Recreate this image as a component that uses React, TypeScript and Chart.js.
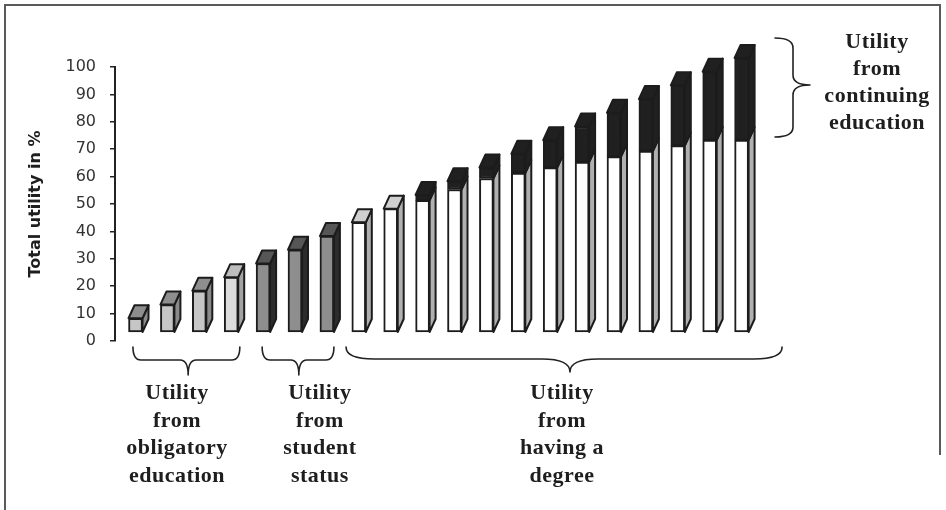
import React, { useEffect, useRef } from 'react';
import { Chart, registerables } from 'chart.js';

Chart.register(...registerables);

// ---- data ----
const steps = [1, 2, 3, 4, 5, 6, 7, 8, 9, 10, 11, 12, 13, 14, 15, 16, 17, 18, 19, 20];
const obligatoryEducation = [5, 10, 15, 20, null, null, null, null, null, null, null, null, null, null, null, null, null, null, null, null];
const studentStatus = [null, null, null, null, 25, 30, 35, null, null, null, null, null, null, null, null, null, null, null, null, null];
const havingDegree = [null, null, null, null, null, null, null, 40, 45, 48, 52, 56, 58, 60, 62, 64, 66, 68, 70, 70];
const continuingEducation = [null, null, null, null, null, null, null, null, null, 2, 3, 4, 7, 10, 13, 16, 19, 22, 25, 30];
const yMin = 0;
const yMax = 100;
const yStep = 10;
const yTitle = 'Total utility in %';

const obligatoryLabel = ['Utility', 'from', 'obligatory', 'education'];
const studentLabel = ['Utility', 'from', 'student', 'status'];
const degreeLabel = ['Utility', 'from', 'having a', 'degree'];
const continuingLabel = ['Utility', 'from', 'continuing', 'education'];

// ---- styles ----
const OUTLINE = '#1c1c1c';
const DX = 6;
const DY = 13;

const frontObligatory = steps.map((s) => (s === 4 ? '#dddddd' : '#c6c6c6'));
const topObligatory = steps.map((s) => (s === 4 ? '#bdbdbd' : '#8e8e8e'));
const sideObligatory = steps.map((s) => (s === 4 ? '#a2a2a2' : '#8a8a8a'));

const depthPlugin = {
  id: 'depth3d',
  afterDatasetsDraw(chart: any) {
    const ctx = chart.ctx;
    ctx.save();
    ctx.lineWidth = 2;
    ctx.lineJoin = 'round';
    ctx.strokeStyle = OUTLINE;
    for (let i = 0; i < steps.length; i++) {
      let top: any = null;
      chart.data.datasets.forEach((ds: any, di: number) => {
        const v = ds.data[i];
        if (v == null) return;
        const el = chart.getDatasetMeta(di).data[i];
        if (!el) return;
        const { x, y, base, width } = el.getProps(['x', 'y', 'base', 'width'], true);
        const xl = x - width / 2;
        const xr = x + width / 2;
        ctx.beginPath();
        ctx.moveTo(xr, y);
        ctx.lineTo(xr + DX, y - DY);
        ctx.lineTo(xr + DX, base - DY);
        ctx.lineTo(xr, base);
        ctx.closePath();
        ctx.fillStyle = Array.isArray(ds.sideColor) ? ds.sideColor[i] : ds.sideColor;
        ctx.fill();
        ctx.stroke();
        top = { xl, xr, y, color: Array.isArray(ds.topColor) ? ds.topColor[i] : ds.topColor };
      });
      if (top) {
        ctx.beginPath();
        ctx.moveTo(top.xl, top.y);
        ctx.lineTo(top.xl + DX, top.y - DY);
        ctx.lineTo(top.xr + DX, top.y - DY);
        ctx.lineTo(top.xr, top.y);
        ctx.closePath();
        ctx.fillStyle = top.color;
        ctx.fill();
        ctx.stroke();
      }
    }
    ctx.restore();
  },
};

const framePlugin = {
  id: 'frame',
  beforeDraw(chart: any) {
    const ctx = chart.ctx;
    ctx.save();
    ctx.fillStyle = '#ffffff';
    ctx.fillRect(0, 0, chart.width, chart.height);
    ctx.strokeStyle = '#5a5a5a';
    ctx.lineWidth = 2;
    ctx.beginPath();
    ctx.moveTo(5, 510);
    ctx.lineTo(5, 5);
    ctx.lineTo(940, 5);
    ctx.lineTo(940, 455);
    ctx.stroke();
    ctx.restore();
  },
};

function hBrace(ctx: any, x1: number, x2: number, xm: number, y0: number, y1: number, y2: number, r: number) {
  ctx.beginPath();
  ctx.moveTo(x1, y0);
  ctx.quadraticCurveTo(x1, y1, x1 + r, y1);
  ctx.lineTo(xm - r, y1);
  ctx.quadraticCurveTo(xm, y1, xm, y2);
  ctx.moveTo(x2, y0);
  ctx.quadraticCurveTo(x2, y1, x2 - r, y1);
  ctx.lineTo(xm + r, y1);
  ctx.quadraticCurveTo(xm, y1, xm, y2);
  ctx.stroke();
}

function vBrace(ctx: any, y1: number, y2: number, ym: number, x0: number, x1: number, x2: number, r: number) {
  ctx.beginPath();
  ctx.moveTo(x0, y1);
  ctx.quadraticCurveTo(x1, y1, x1, y1 + r);
  ctx.lineTo(x1, ym - r);
  ctx.quadraticCurveTo(x1, ym, x2, ym);
  ctx.moveTo(x0, y2);
  ctx.quadraticCurveTo(x1, y2, x1, y2 - r);
  ctx.lineTo(x1, ym + r);
  ctx.quadraticCurveTo(x1, ym, x2, ym);
  ctx.stroke();
}

function drawLines(ctx: any, lines: string[], cx: number, y0: number, lh: number) {
  lines.forEach((t, k) => ctx.fillText(t, cx, y0 + k * lh));
}

const annotationPlugin = {
  id: 'annotations',
  afterDraw(chart: any) {
    const ctx = chart.ctx;
    const xs = chart.scales.x;
    const px = (v: number) => xs.getPixelForValue(v);
    ctx.save();
    ctx.strokeStyle = '#222222';
    ctx.lineWidth = 1.6;
    ctx.lineCap = 'round';
    hBrace(ctx, px(0.92), px(4.27), px(2.65), 347, 360, 375, 8);
    hBrace(ctx, px(4.97), px(7.22), px(6.12), 347, 360, 375, 8);
    hBrace(ctx, px(7.6), px(21.27), px(14.62), 347, 359, 372, 28);
    vBrace(ctx, 38, 137, 85, 775, 793, 810, 10);

    ctx.fillStyle = '#1e1e1e';
    ctx.font = 'bold 22px "Liberation Serif", serif';
    (ctx as any).letterSpacing = '0.5px';
    ctx.textAlign = 'center';
    ctx.textBaseline = 'alphabetic';
    drawLines(ctx, obligatoryLabel, px(2.30), 399, 27.5);
    drawLines(ctx, studentLabel, px(6.78), 399, 27.5);
    drawLines(ctx, degreeLabel, px(14.37), 399, 27.5);
    drawLines(ctx, continuingLabel, 877, 48, 27);
    ctx.restore();
  },
};

export default function App() {
  const ref = useRef<HTMLCanvasElement>(null);
  useEffect(() => {
    if (!ref.current) return;
    const bs = { borderColor: OUTLINE, borderWidth: 2, borderSkipped: false, barThickness: 14, yAxisID: 'yb', clip: false as any };
    const chart = new Chart(ref.current, {
      type: 'bar',
      data: {
        labels: steps,
        datasets: [
          { ...bs, label: 'Obligatory education', data: obligatoryEducation, backgroundColor: frontObligatory, topColor: topObligatory, sideColor: sideObligatory } as any,
          { ...bs, label: 'Student status', data: studentStatus, backgroundColor: '#8e8e8e', topColor: '#565656', sideColor: '#2c2c2c' } as any,
          { ...bs, label: 'Having a degree', data: havingDegree, backgroundColor: '#ffffff', topColor: '#cfcfcf', sideColor: '#b0b0b0' } as any,
          { ...bs, label: 'Continuing education', data: continuingEducation, backgroundColor: '#202020', topColor: '#202020', sideColor: '#202020' } as any,
        ],
      },
      options: {
        responsive: false,
        devicePixelRatio: 1,
        animation: false,
        layout: { padding: { left: 0, top: 67, right: 186, bottom: 169 } },
        plugins: { legend: { display: false }, tooltip: { enabled: false } },
        scales: {
          x: { type: 'linear', display: false, stacked: true, min: 0.357, max: 20.577, offset: false },
          y: {
            position: 'left',
            min: yMin,
            max: yMax,
            ticks: { stepSize: yStep, color: '#333333', padding: 14, font: { family: '"DejaVu Sans", sans-serif', size: 16 } },
            grid: { drawOnChartArea: false, drawTicks: true, tickLength: 5, color: '#222222', lineWidth: 1.5 },
            border: { display: true, color: '#222222', width: 2 },
            title: { display: true, text: yTitle, color: '#1e1e1e', padding: { top: 26, bottom: 0 }, font: { family: '"DejaVu Sans", sans-serif', size: 16, weight: 'bold' } },
            afterFit: (s: any) => { s.width = 115; },
          },
          yb: { display: false, stacked: true, min: -3.3, max: 96.7 },
        },
      },
      plugins: [framePlugin, depthPlugin, annotationPlugin],
    } as any);
    return () => chart.destroy();
  }, []);
  return (
    <div style={{ position: 'fixed', left: 0, top: 0, width: 946, height: 510 }}>
      <canvas ref={ref} width={946} height={510} style={{ display: 'block' }} />
    </div>
  );
}
